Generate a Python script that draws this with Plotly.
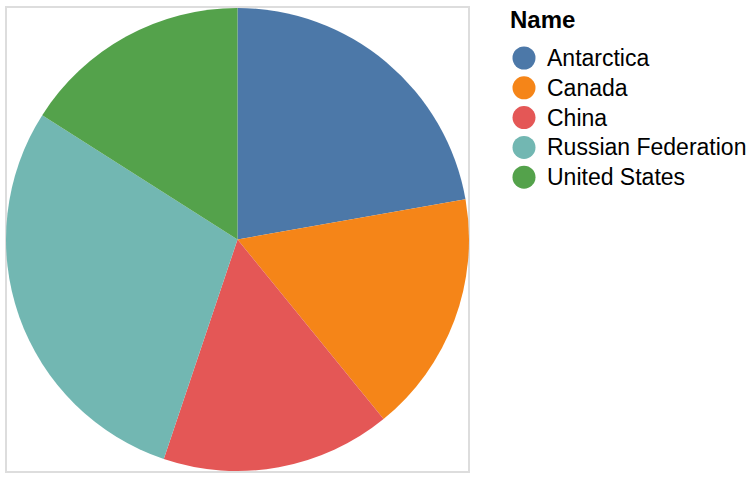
import plotly.graph_objects as go

W, H = 756, 502

# land area (million km²)
names = ["Antarctica", "Canada", "China", "Russian Federation", "United States"]
areas = [13.12, 9.98, 9.46, 17.04, 9.43]
colors = ["#4c78a8", "#f58518", "#e45756", "#72b7b2", "#54a24b"]
legend_title = "Name"


def px(x):
    return x / W


def py(y):
    return 1 - y / H


fig = go.Figure(go.Pie(
    labels=names, values=areas,
    marker=dict(colors=colors, line=dict(width=0)),
    sort=False, direction="clockwise", rotation=0,
    textinfo="none", hoverinfo="label+value",
    domain=dict(x=[px(6), px(469)], y=[py(472), py(7)]),
    showlegend=False,
))

# grey view frame
fig.add_shape(type="rect", xref="paper", yref="paper",
              x0=px(6), x1=px(469), y0=py(472), y1=py(7),
              line=dict(color="#dddddd", width=2), layer="below")

# hand-made legend (plotly caps legend marker size)
fig.add_annotation(x=px(508), y=py(20), xref="paper", yref="paper",
                   text="<b>" + legend_title + "</b>", showarrow=False,
                   xanchor="left", yanchor="middle",
                   font=dict(size=24, color="#000"))
r = 11.5
for i, (n, c) in enumerate(zip(names, colors)):
    cy = 58 + i * 29.8
    fig.add_shape(type="circle", xref="paper", yref="paper",
                  x0=px(524 - r), x1=px(524 + r), y0=py(cy + r), y1=py(cy - r),
                  fillcolor=c, line=dict(width=0))
    fig.add_annotation(x=px(545), y=py(cy), xref="paper", yref="paper",
                       text=n, showarrow=False, xanchor="left", yanchor="middle",
                       font=dict(size=23, color="#000"))

fig.update_layout(
    width=W, height=H,
    margin=dict(l=0, r=0, t=0, b=0),
    paper_bgcolor="white", plot_bgcolor="white",
    font=dict(family="Liberation Sans, Arial, sans-serif"),
)

# drop the browser's default 8px body margin so the figure sits at (0, 0)
fig.write_html("out.html", config={"displayModeBar": False},
               post_script="document.body.style.margin='0';")
